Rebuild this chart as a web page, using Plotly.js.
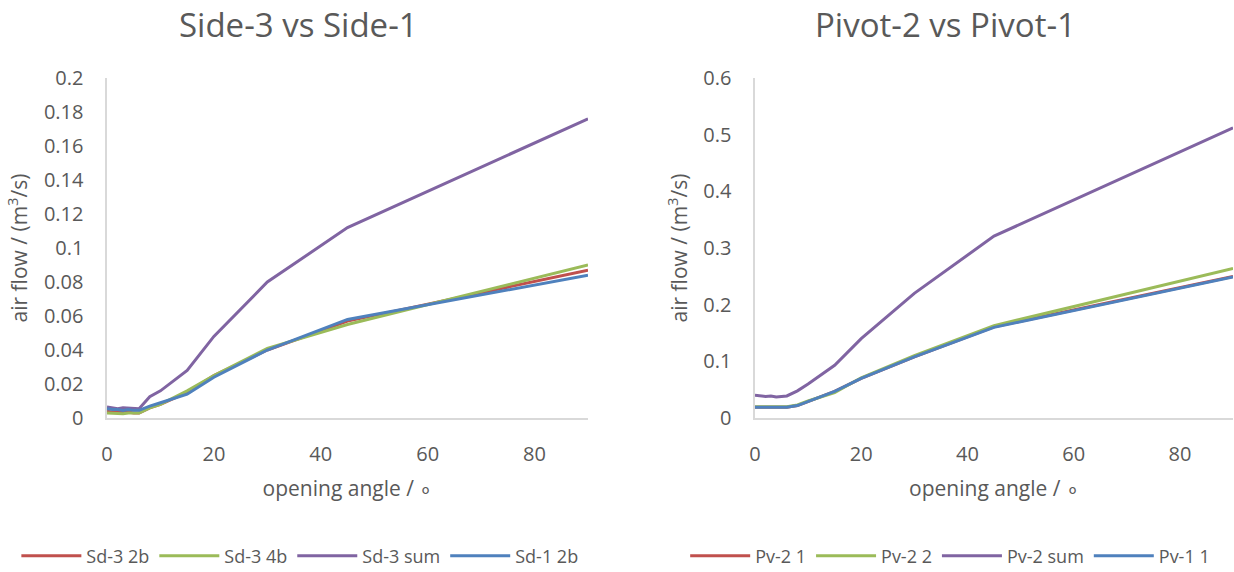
<!DOCTYPE html>
<html>
<head>
<meta charset="utf-8">
<script src="https://cdn.plot.ly/plotly-3.0.1.min.js"></script>
<style>html,body{margin:0;padding:0;background:#fff;}#chart{width:1234px;height:572px;}</style>
</head>
<body>
<div id="chart"></div>
<script>
// Opening angles (degrees)
const angles = [0, 1, 2, 3, 4, 5, 6, 8, 10, 15, 20, 30, 45, 90];

// Left chart: Side-3 vs Side-1 (m3/s)
const sd3_2b  = [0.004, 0.0035, 0.004, 0.0035, 0.0035, 0.003, 0.003, 0.006, 0.008, 0.015, 0.025, 0.040, 0.057, 0.087];
const sd3_4b  = [0.003, 0.0028, 0.003, 0.0025, 0.003, 0.0028, 0.003, 0.006, 0.008, 0.016, 0.025, 0.041, 0.055, 0.090];
const sd3_sum = [0.0065, 0.006, 0.0055, 0.006, 0.0058, 0.006, 0.0055, 0.0125, 0.016, 0.028, 0.048, 0.080, 0.112, 0.176];
const sd1_2b  = [0.0055, 0.005, 0.005, 0.0045, 0.005, 0.0045, 0.0045, 0.007, 0.009, 0.014, 0.024, 0.040, 0.058, 0.084];

// Right chart: Pivot-2 vs Pivot-1 (m3/s)
const pv2_1   = [0.019, 0.019, 0.019, 0.019, 0.019, 0.019, 0.019, 0.022, 0.029, 0.047, 0.070, 0.108, 0.161, 0.250];
const pv2_2   = [0.020, 0.020, 0.019, 0.020, 0.019, 0.020, 0.020, 0.023, 0.030, 0.045, 0.071, 0.110, 0.163, 0.264];
const pv2_sum = [0.040, 0.039, 0.038, 0.039, 0.037, 0.038, 0.039, 0.048, 0.060, 0.093, 0.140, 0.220, 0.321, 0.512];
const pv1_1   = [0.019, 0.019, 0.018, 0.019, 0.018, 0.019, 0.019, 0.022, 0.029, 0.047, 0.070, 0.108, 0.160, 0.249];

// Tick labels
const xTickVals = [0, 20, 40, 60, 80];
const xTickText = ["0", "20", "40", "60", "80"];
const yLeftVals = [0, 0.02, 0.04, 0.06, 0.08, 0.1, 0.12, 0.14, 0.16, 0.18, 0.2];
const yLeftText = ["0", "0.02", "0.04", "0.06", "0.08", "0.1", "0.12", "0.14", "0.16", "0.18", "0.2"];
const yRightVals = [0, 0.1, 0.2, 0.3, 0.4, 0.5, 0.6];
const yRightText = ["0", "0.1", "0.2", "0.3", "0.4", "0.5", "0.6"];

const leftNames  = ["Sd-3 2b", "Sd-3 4b", "Sd-3 sum", "Sd-1 2b"];
const rightNames = ["Pv-2 1", "Pv-2 2", "Pv-2 sum", "Pv-1 1"];
const colors = ["#C0504D", "#9BBB59", "#8064A2", "#4F81BD"];

const leftSeries = [sd3_2b, sd3_4b, sd3_sum, sd1_2b];
const rightSeries = [pv2_1, pv2_2, pv2_sum, pv1_1];

const traces = [];
leftSeries.forEach((ys, i) => traces.push({
  x: angles, y: ys, name: leftNames[i], type: 'scatter', mode: 'lines',
  line: {color: colors[i], width: 3}, xaxis: 'x', yaxis: 'y', legend: 'legend'
}));
rightSeries.forEach((ys, i) => traces.push({
  x: angles, y: ys, name: rightNames[i], type: 'scatter', mode: 'lines',
  line: {color: colors[i], width: 3}, xaxis: 'x2', yaxis: 'y2', legend: 'legend2'
}));

const font = "Open Sans, Noto Sans, sans-serif";
const tickFont = {family: font, size: 20, color: '#595959'};
const titleFont = {family: font, size: 21, color: '#595959'};

const baseX = {
  range: [0, 90], tickvals: xTickVals, ticktext: xTickText, automargin: false,
  showgrid: false, zeroline: false, showline: true, linecolor: '#D9D9D9', linewidth: 1.5,
  ticks: 'outside', ticklen: 17, tickcolor: 'rgba(0,0,0,0)', tickfont: tickFont, fixedrange: true,
  title: {text: 'opening angle / ∘', font: titleFont, standoff: 16}
};
const baseY = {
  showgrid: false, zeroline: false, showline: true, linecolor: '#D9D9D9', linewidth: 1.5, automargin: false,
  ticks: 'outside', ticklen: 18, tickcolor: 'rgba(0,0,0,0)', tickfont: tickFont, fixedrange: true,
  title: {text: 'air flow / (m<sup>3</sup>/s)', font: titleFont, standoff: 10}
};

const yDom = [0.2692, 0.8636];
const legendFont = {family: font, size: 18, color: '#595959'};
const layout = {
  width: 1234, height: 572,
  margin: {l: 0, r: 0, t: 0, b: 0, autoexpand: false},
  paper_bgcolor: '#fff', plot_bgcolor: '#fff',
  showlegend: true,
  xaxis: Object.assign({}, baseX, {domain: [0.0867, 0.4765], anchor: 'y'}),
  yaxis: Object.assign({}, baseY, {domain: yDom, anchor: 'x', range: [0, 0.2], tickvals: yLeftVals, ticktext: yLeftText}),
  xaxis2: Object.assign({}, baseX, {domain: [0.6118, 0.9992], anchor: 'y2'}),
  yaxis2: Object.assign({}, baseY, {domain: yDom, anchor: 'x2', range: [0, 0.6], tickvals: yRightVals, ticktext: yRightText}),
  legend: {
    orientation: 'h', xref: 'container', yref: 'container', x: 0.243, xanchor: 'center', y: 0.028, yanchor: 'middle',
    font: legendFont, tracegroupgap: 0, itemwidth: 60
  },
  legend2: {
    orientation: 'h', xref: 'container', yref: 'container', x: 0.77, xanchor: 'center', y: 0.028, yanchor: 'middle',
    font: legendFont, tracegroupgap: 0, itemwidth: 60
  },
  annotations: [
    {text: 'Side-3 vs Side-1', xref: 'paper', yref: 'paper', x: 0.242, y: 0.958, xanchor: 'center', yanchor: 'middle',
     showarrow: false, font: {family: font, size: 33, color: '#595959'}},
    {text: 'Pivot-2 vs Pivot-1', xref: 'paper', yref: 'paper', x: 0.766, y: 0.958, xanchor: 'center', yanchor: 'middle',
     showarrow: false, font: {family: font, size: 33, color: '#595959'}}
  ]
};

Plotly.newPlot('chart', traces, layout, {displayModeBar: false, staticPlot: true});
</script>
</body>
</html>
